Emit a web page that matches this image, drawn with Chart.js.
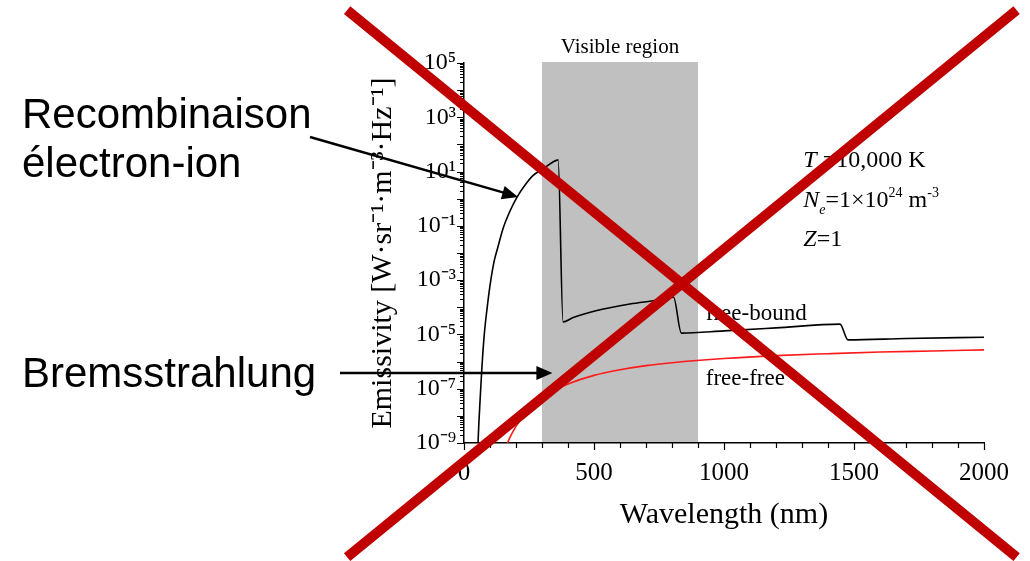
<!DOCTYPE html>
<html>
<head>
<meta charset="utf-8">
<title>Emissivity spectrum</title>
<script src="https://cdn.jsdelivr.net/npm/chart.js@4.4.0/dist/chart.umd.min.js"></script>
<style>
  html, body { margin: 0; padding: 0; background: #fff; }
  canvas { display: block; }
</style>
</head>
<body>
<canvas id="chart" width="1030" height="561"></canvas>
<script>
// free-bound (recombination) emissivity, W sr^-1 m^-3 Hz^-1
const fbWavelength = [54, 57, 62, 69, 78, 88, 100, 115, 130, 150, 175, 204, 235, 265, 304, 342, 362,
  381, 420, 511, 638, 742, 806, 836, 1000, 1200, 1446, 1477, 1700, 2000];
const fbEmissivity = [1e-9, 5.0e-9, 4.0e-8, 6.3e-7, 1.0e-5, 7.9e-5, 6.3e-4, 4.5e-3, 1.6e-2, 7.9e-2, 0.32,
  1.15, 3.2, 7.1, 12.6, 22.4, 26.9, 2.9e-5, 4.2e-5, 7.6e-5, 1.32e-4, 1.82e-4, 2.34e-4, 1.12e-5,
  1.35e-5, 1.74e-5, 2.4e-5, 6.3e-6, 7.1e-6, 7.9e-6];

// free-free (bremsstrahlung)
const ffWavelength = [165, 180, 200, 230, 260, 300, 350, 400, 500, 600, 700, 800, 1000, 1200, 1400, 1600, 1800, 2000];
const ffEmissivity = [8.9e-10, 1.86e-9, 4.1e-9, 1.05e-8, 2.2e-8, 4.6e-8, 8.9e-8, 1.5e-7, 3.1e-7, 5.0e-7,
  7.1e-7, 9.1e-7, 1.3e-6, 1.66e-6, 1.95e-6, 2.24e-6, 2.45e-6, 2.7e-6];

const visibleBand = [300, 900];
const xTickValues = [0, 500, 1000, 1500, 2000];
const yTickExponents = [5, 3, 1, -1, -3, -5, -7, -9];

const SERIF = '"Liberation Serif", "Times New Roman", serif';
const SANS = '"Liberation Sans", Arial, sans-serif';
const RED_X = "#c00000";

const SUP = { "-": "\u207b", "0": "\u2070", "1": "\u00b9", "2": "\u00b2", "3": "\u00b3",
  "4": "\u2074", "5": "\u2075", "6": "\u2076", "7": "\u2077", "8": "\u2078", "9": "\u2079" };
const sup = (s) => String(s).split("").map((c) => SUP[c] || c).join("");

function zip(xs, ys) {
  return xs.map((x, i) => ({ x, y: ys[i] }));
}

function arrow(ctx, x0, y0, x1, y1) {
  const a = Math.atan2(y1 - y0, x1 - x0);
  const head = 16, half = 7;
  const bx = x1 - head * Math.cos(a), by = y1 - head * Math.sin(a);
  ctx.beginPath();
  ctx.moveTo(x0, y0);
  ctx.lineTo(bx + 1, by);
  ctx.stroke();
  ctx.beginPath();
  ctx.moveTo(x1, y1);
  ctx.lineTo(bx + half * Math.sin(a), by - half * Math.cos(a));
  ctx.lineTo(bx - half * Math.sin(a), by + half * Math.cos(a));
  ctx.closePath();
  ctx.fill();
}

// draws a run of [text, font, dy] pieces starting at x, returns end x
function runs(ctx, x, y, parts) {
  parts.forEach(([txt, font, dy]) => {
    ctx.font = font;
    ctx.fillText(txt, x, y + (dy || 0));
    x += ctx.measureText(txt).width;
  });
  return x;
}

const bandPlugin = {
  id: "band",
  beforeDatasetsDraw(chart) {
    const { ctx, chartArea, scales: { x } } = chart;
    const x0 = x.getPixelForValue(visibleBand[0]);
    const x1 = x.getPixelForValue(visibleBand[1]);
    ctx.save();
    ctx.fillStyle = "#c0c0c0";
    ctx.fillRect(x0, chartArea.top - 1, x1 - x0, chartArea.bottom - chartArea.top);
    ctx.fillStyle = "#000";
    ctx.font = "21px " + SERIF;
    ctx.textAlign = "center";
    ctx.fillText("Visible region", (x0 + x1) / 2, chartArea.top - 10);
    ctx.restore();
  },
};

const tickPlugin = {
  id: "tickMarks",
  afterDatasetsDraw(chart) {
    const { ctx, chartArea, scales: { x, y } } = chart;
    ctx.save();
    ctx.strokeStyle = "#000";
    ctx.lineWidth = 1.2;
    ctx.beginPath();
    for (let e = -9; e <= 5; e++) {
      for (let m = 1; m <= 9; m++) {
        const v = m * Math.pow(10, e);
        if (v > 1e5 * 1.0001) break;
        const py = Math.round(y.getPixelForValue(v)) + 0.5;
        const len = m === 1 ? 7 : 4;
        ctx.moveTo(chartArea.left, py);
        ctx.lineTo(chartArea.left - len, py);
      }
    }
    for (let v = 0; v <= 2000; v += 100) {
      const px = Math.round(x.getPixelForValue(v)) + 0.5;
      const len = v % 500 === 0 ? 7 : 5;
      ctx.moveTo(px, chartArea.bottom);
      ctx.lineTo(px, chartArea.bottom + len);
    }
    ctx.stroke();
    ctx.restore();
  },
};

const notePlugin = {
  id: "notes",
  afterDatasetsDraw(chart) {
    const { ctx, scales: { x, y } } = chart;
    const it = "italic 24px " + SERIF, rg = "24px " + SERIF, sm = "14px " + SERIF, smi = "italic 14px " + SERIF;
    ctx.save();
    ctx.fillStyle = "#000";
    ctx.textBaseline = "alphabetic";
    ctx.textAlign = "left";
    const px = x.getPixelForValue(1305);
    runs(ctx, px, y.getPixelForValue(14.8), [["T", it], [" =10,000 K", rg]]);
    runs(ctx, px, y.getPixelForValue(0.49), [["N", it], ["e", smi, 7], ["=1\u00d710", rg], ["24", sm, -10],
      [" m", rg], ["-3", sm, -10]]);
    runs(ctx, px, y.getPixelForValue(0.018), [["Z", it], ["=1", rg]]);
    ctx.font = "23px " + SERIF;
    const lx = x.getPixelForValue(930);
    ctx.fillText("free-bound", lx, y.getPixelForValue(3.4e-5));
    ctx.fillText("free-free", lx, y.getPixelForValue(1.4e-7));
    ctx.restore();
  },
};

const overlayPlugin = {
  id: "overlay",
  afterDraw(chart) {
    const { ctx, width, height, scales: { x, y } } = chart;
    ctx.save();
    ctx.fillStyle = "#000";
    ctx.font = "42px " + SANS;
    ctx.textAlign = "left";
    ctx.fillText("Recombinaison", 22, 128);
    ctx.fillText("\u00e9lectron-ion", 22, 177);
    ctx.fillText("Bremsstrahlung", 22, 387);

    ctx.strokeStyle = "#000";
    ctx.lineWidth = 2.5;
    arrow(ctx, 310, 137, x.getPixelForValue(208), y.getPixelForValue(1.15));
    arrow(ctx, 340, 373, x.getPixelForValue(340), 373);

    // big red cross over the whole figure
    ctx.strokeStyle = RED_X;
    ctx.lineWidth = 10;
    ctx.lineCap = "butt";
    ctx.beginPath();
    ctx.moveTo(width * 0.337, height * 0.018);
    ctx.lineTo(width * 0.987, height * 0.993);
    ctx.moveTo(width * 0.337, height * 0.993);
    ctx.lineTo(width * 0.987, height * 0.018);
    ctx.stroke();
    ctx.restore();
  },
};

new Chart(document.getElementById("chart"), {
  type: "line",
  data: {
    datasets: [
      {
        label: "free-bound",
        data: zip(fbWavelength, fbEmissivity),
        borderColor: "#000",
        borderWidth: 1.6,
        pointRadius: 0,
        cubicInterpolationMode: "monotone",
      },
      {
        label: "free-free",
        data: zip(ffWavelength, ffEmissivity),
        borderColor: "#ff1a1a",
        borderWidth: 1.6,
        pointRadius: 0,
        cubicInterpolationMode: "monotone",
      },
    ],
  },
  options: {
    responsive: false,
    animation: false,
    devicePixelRatio: 1,
    layout: { padding: { left: 340, right: 46, top: 63, bottom: 0 } },
    plugins: { legend: { display: false }, tooltip: { enabled: false } },
    scales: {
      x: {
        type: "linear",
        min: 0,
        max: 2000,
        afterFit: (s) => { s.height = 118; },
        afterBuildTicks: (s) => { s.ticks = xTickValues.map((v) => ({ value: v })); },
        grid: { drawOnChartArea: false, drawTicks: false },
        border: { color: "#000", width: 1.5 },
        ticks: {
          color: "#000",
          font: { family: SERIF, size: 25 },
          padding: 15,
          maxRotation: 0,
          autoSkip: false,
          callback: (v) => String(v),
        },
        title: {
          display: true,
          text: "Wavelength (nm)",
          color: "#000",
          font: { family: SERIF, size: 30 },
          padding: { top: 0, bottom: 28 },
        },
      },
      y: {
        type: "logarithmic",
        min: 1e-9,
        max: 1e5,
        afterFit: (s) => { s.width = 124; },
        afterBuildTicks: (s) => { s.ticks = yTickExponents.map((e) => ({ value: Math.pow(10, e) })); },
        grid: { drawOnChartArea: false, drawTicks: false },
        border: { color: "#000", width: 1.5 },
        ticks: {
          color: "#000",
          font: { family: SERIF, size: 24 },
          padding: 8,
          autoSkip: false,
          callback: (v) => "10" + sup(Math.round(Math.log10(v))),
        },
        title: {
          display: true,
          text: "Emissivity [W\u00b7sr\u207b\u00b9\u00b7m\u207b\u00b3\u00b7Hz\u207b\u00b9]",
          color: "#000",
          font: { family: SERIF, size: 30 },
          padding: { top: 25, bottom: 0 },
        },
      },
    },
  },
  plugins: [bandPlugin, tickPlugin, notePlugin, overlayPlugin],
});
</script>
</body>
</html>
